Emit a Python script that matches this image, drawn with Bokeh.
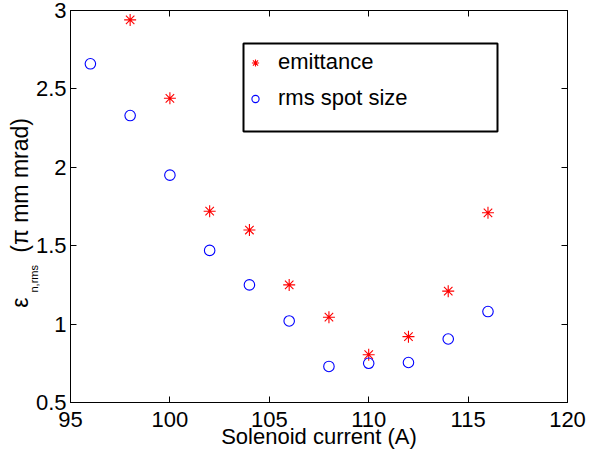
from bokeh.plotting import figure
from bokeh.models import (LinearAxis, FixedTicker, Legend, LegendItem, Label,
                          BoxAnnotation, Range1d, ColumnDataSource)
from bokeh.embed import file_html
from bokeh.resources import INLINE
import math

# ---- data ----
spot_current = [96, 98, 100, 102, 104, 106, 108, 110, 112, 114, 116]
spot_size = [2.66, 2.33, 1.95, 1.47, 1.25, 1.02, 0.73, 0.75, 0.755, 0.905, 1.08]
emit_current = [98, 100, 102, 104, 106, 108, 110, 112, 114, 116]
emittance = [2.94, 2.44, 1.72, 1.60, 1.25, 1.044, 0.805, 0.92, 1.21, 1.71]
x_ticks = [95, 100, 105, 110, 115, 120]
y_ticks = [0.5, 1, 1.5, 2, 2.5, 3]
x_label = "Solenoid current (A)"
y_label_main = "ε" + "\u00a0" * 7 + "(π mm mrad)" + "\u00a0" * 2
y_label_sub = "n,rms"
legend_labels = ["emittance", "rms spot size"]

# ---- layout geometry (pixels) ----
W, H = 602, 455
FL, FT, FR, FB = 70, 10, 567, 402
X0, X1, Y0, Y1 = 95, 120, 0.5, 3
FONT = "Liberation Sans"

def px2x(px):
    return X0 + (px - FL) * (X1 - X0) / (FR - FL)

def px2y(py):
    return Y1 - (py - FT) * (Y1 - Y0) / (FB - FT)

p = figure(width=W, height=H, output_backend="svg", toolbar_location=None,
           x_range=Range1d(X0, X1), y_range=Range1d(Y0, Y1),
           min_border_left=FL, min_border_right=W - FR,
           min_border_top=FT, min_border_bottom=H - FB,
           x_axis_type=None, y_axis_type=None)
p.grid.visible = False
p.outline_line_color = "black"
p.outline_line_width = 1
p.background_fill_color = "white"
p.border_fill_color = "white"

def make_axis(ticks, labels=True):
    ax = LinearAxis(ticker=FixedTicker(ticks=ticks))
    ax.major_tick_in = 6
    ax.major_tick_out = 0
    ax.minor_tick_line_color = None
    ax.axis_line_color = "black"
    ax.major_tick_line_color = "black"
    if labels:
        ax.major_label_text_font = FONT
        ax.major_label_text_font_size = "22px"
        ax.major_label_text_color = "black"
        ax.axis_label_text_font = FONT
        ax.axis_label_text_font_style = "normal"
        ax.axis_label_text_color = "black"
    else:
        ax.major_label_text_font_size = "0px"
        ax.major_label_text_alpha = 0
        ax.major_label_standoff = 0
    return ax

bx = make_axis(x_ticks)
bx.major_label_standoff = 9
bx.axis_label = x_label
bx.axis_label_text_font_size = "22px"
bx.axis_label_standoff = -6
p.add_layout(bx, "below")

ly = make_axis(y_ticks)
ly.major_label_standoff = 4
ly.axis_label = y_label_main
ly.axis_label_text_font_size = "23px"
ly.axis_label_standoff = 0
p.add_layout(ly, "left")

p.add_layout(make_axis(x_ticks, labels=False), "above")
p.add_layout(make_axis(y_ticks, labels=False), "right")

src_e = ColumnDataSource(dict(x=emit_current, y=emittance))
src_s = ColumnDataSource(dict(x=spot_current, y=spot_size))
r_e = p.scatter("x", "y", source=src_e, marker="asterisk", size=12,
                line_color="#ff0000", line_width=1.1)
r_s = p.scatter("x", "y", source=src_s, marker="circle", size=10.5,
                fill_color=None, line_color="#0000ff", line_width=1.1)

# legend box
box = BoxAnnotation(left=px2x(243), right=px2x(497), top=px2y(43), bottom=px2y(131),
                    fill_color="white", fill_alpha=1,
                    line_color="black", line_alpha=1, line_width=2)
p.add_layout(box)

legend = Legend(items=[LegendItem(label=legend_labels[0], renderers=[r_e]),
                       LegendItem(label=legend_labels[1], renderers=[r_s])],
                location=(246 - FL, FB - 111), padding=0, margin=0, spacing=10,
                glyph_width=18, glyph_height=19, label_height=19, label_standoff=14,
                label_text_font=FONT, label_text_font_size="22px",
                label_text_color="black", border_line_alpha=0,
                background_fill_alpha=0)
p.add_layout(legend)

# subscript of the y label (placed in a side panel so it is not clipped)
p.add_layout(Label(x=px2x(33), y=px2y(292), text=y_label_sub, angle=math.pi / 2,
                   text_font=FONT, text_font_size="11px", text_color="black",
                   text_align="left", text_baseline="alphabetic"), "right")

open("out.html", "w").write(file_html(p, INLINE))
